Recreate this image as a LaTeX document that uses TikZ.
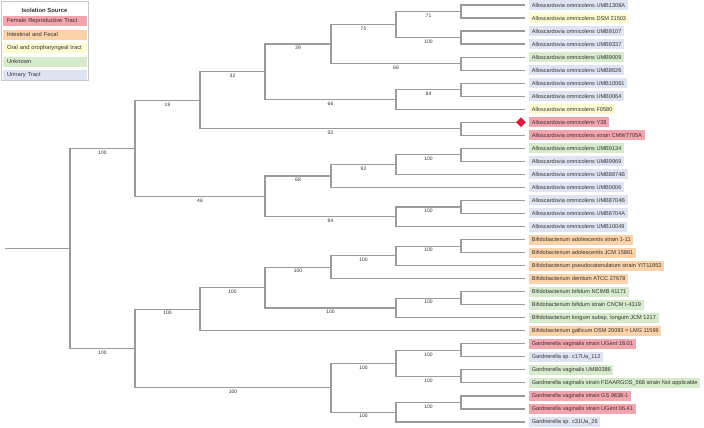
\documentclass[tikz,border=0pt]{standalone}
\usepackage{fontspec}
\setmainfont{Liberation Sans}
\usetikzlibrary{shapes.geometric,positioning}
\definecolor{branchgray}{HTML}{9B9B9B}
\definecolor{labelink}{HTML}{333333}
\definecolor{legendgray}{HTML}{C8C8C8}
\definecolor{srcfemale}{HTML}{F4A4AC}
\definecolor{srcgut}{HTML}{FCD2A8}
\definecolor{srcoral}{HTML}{FEFAD2}
\definecolor{srcunknown}{HTML}{D6EBCB}
\definecolor{srcurinary}{HTML}{DFE4F3}
\definecolor{markred}{HTML}{E2173E}

\begin{document}
\begin{tikzpicture}[x=1pt, y=-1pt,
  branch/.style={draw=branchgray, line width=1.2pt},
  boot/.style={font=\fontsize{5}{5}\selectfont, text=labelink, anchor=north,
               inner sep=0.6pt, yshift=-1.1pt},
  leaf/.style={anchor=west, inner xsep=2.6pt, inner ysep=0pt, minimum height=10pt,
               font=\fontsize{5.6}{6}\selectfont, text=labelink},
  legitem/.style={text width=76pt, inner xsep=4pt, inner ysep=0pt, minimum height=10pt,
                  align=left, font=\fontsize{5.8}{6}\selectfont, text=labelink}
]
  \useasboundingbox[fill=white] (0,0) rectangle (704,428);

  % isolation source key
  \node[draw=legendgray, fill=white, line width=0.6pt, anchor=north west, inner sep=0pt,
        minimum width=87pt, minimum height=79pt] (legend) at (1,1) {};
  \node[font=\fontsize{5.9}{6}\selectfont\bfseries, text=labelink] (legtitle) at (44.5,10) {Isolation Source};
  \node[legitem, fill=srcfemale] (legfemale) at (45,21) {Female Reproductive Tract};
  \node[legitem, fill=srcgut, below=3.2pt of legfemale] (leggut) {Intestinal and Fecal};
  \node[legitem, fill=srcoral, below=3.2pt of leggut] (legoral) {Oral and oropharyngeal tract};
  \node[legitem, fill=srcunknown, below=3.2pt of legoral] (legunknown) {Unknown};
  \node[legitem, fill=srcurinary, below=3.2pt of legunknown] (legurinary) {Urinary Tract};

  % tips
  \node[leaf, fill=srcurinary] (l1) at (529,5.00) {Alloscardovia omnicolens UMB1308A};
  \node[leaf, fill=srcoral] (l2) at (529,18.03) {Alloscardovia omnicolens DSM 21503};
  \node[leaf, fill=srcurinary] (l3) at (529,31.06) {Alloscardovia omnicolens UMB9107};
  \node[leaf, fill=srcurinary] (l4) at (529,44.09) {Alloscardovia omnicolens UMB9337};
  \node[leaf, fill=srcunknown] (l5) at (529,57.12) {Alloscardovia omnicolens UMB9009};
  \node[leaf, fill=srcurinary] (l6) at (529,70.15) {Alloscardovia omnicolens UMB8626};
  \node[leaf, fill=srcurinary] (l7) at (529,83.18) {Alloscardovia omnicolens UMB10061};
  \node[leaf, fill=srcurinary] (l8) at (529,96.21) {Alloscardovia omnicolens UMB0064};
  \node[leaf, fill=srcoral] (l9) at (529,109.24) {Alloscardovia omnicolens F0580};
  \node[leaf, fill=srcfemale] (l10) at (529,122.27) {Alloscardovia omnicolens Y28};
  \node[leaf, fill=srcfemale] (l11) at (529,135.30) {Alloscardovia omnicolens strain CMW7705A};
  \node[leaf, fill=srcunknown] (l12) at (529,148.33) {Alloscardovia omnicolens UMB9134};
  \node[leaf, fill=srcurinary] (l13) at (529,161.36) {Alloscardovia omnicolens UMB9969};
  \node[leaf, fill=srcurinary] (l14) at (529,174.39) {Alloscardovia omnicolens UMB8874B};
  \node[leaf, fill=srcurinary] (l15) at (529,187.42) {Alloscardovia omnicolens UMB0006};
  \node[leaf, fill=srcurinary] (l16) at (529,200.45) {Alloscardovia omnicolens UMB8704B};
  \node[leaf, fill=srcurinary] (l17) at (529,213.48) {Alloscardovia omnicolens UMB8704A};
  \node[leaf, fill=srcurinary] (l18) at (529,226.51) {Alloscardovia omnicolens UMB10049};
  \node[leaf, fill=srcgut] (l19) at (529,239.54) {Bifidobacterium adolescentis strain 1-11};
  \node[leaf, fill=srcgut] (l20) at (529,252.57) {Bifidobacterium adolescentis JCM 15861};
  \node[leaf, fill=srcgut] (l21) at (529,265.60) {Bifidobacterium pseudocatenulatum strain YIT11953};
  \node[leaf, fill=srcgut] (l22) at (529,278.63) {Bifidobacterium dentium ATCC 27678};
  \node[leaf, fill=srcunknown] (l23) at (529,291.66) {Bifidobacterium bifidum NCIMB 41171};
  \node[leaf, fill=srcunknown] (l24) at (529,304.69) {Bifidobacterium bifidum strain CNCM I-4319};
  \node[leaf, fill=srcunknown] (l25) at (529,317.72) {Bifidobacterium longum subsp. longum JCM 1217};
  \node[leaf, fill=srcgut] (l26) at (529,330.75) {Bifidobacterium gallicum DSM 20093 = LMG 11596};
  \node[leaf, fill=srcfemale] (l27) at (529,343.78) {Gardnerella vaginalis strain UGent 18.01};
  \node[leaf, fill=srcurinary] (l28) at (529,356.81) {Gardnerella sp. c17Ua\_112};
  \node[leaf, fill=srcunknown] (l29) at (529,369.84) {Gardnerella vaginalis UMB0386};
  \node[leaf, fill=srcunknown] (l30) at (529,382.87) {Gardnerella vaginalis strain FDAARGOS\_568 strain Not applicable};
  \node[leaf, fill=srcfemale] (l31) at (529,395.90) {Gardnerella vaginalis strain GS 9838-1};
  \node[leaf, fill=srcfemale] (l32) at (529,408.93) {Gardnerella vaginalis strain UGent 06.41};
  \node[leaf, fill=srcurinary] (l33) at (529,421.96) {Gardnerella sp. c31Ua\_26};

  % inner nodes
  \coordinate (root0) at (5,248.4);
  \coordinate (root) at (70,248.4);
  \coordinate (allo) at (135,148.4);
  \coordinate (a1t11) at (200,100.3);
  \coordinate (a1t9) at (265,71.8);
  \coordinate (a1t6) at (331,44.1);
  \coordinate (a1t4) at (396,24.5);
  \coordinate (a12) at (461,11.5);
  \coordinate (a34) at (461,37.6);
  \coordinate (a56) at (461,63.6);
  \coordinate (a7t9) at (396,99.5);
  \coordinate (a78) at (461,89.7);
  \coordinate (a1011) at (461,128.8);
  \coordinate (a12t18) at (265,196.4);
  \coordinate (a12t15) at (331,176.0);
  \coordinate (a12t14) at (396,164.6);
  \coordinate (a1213) at (461,154.8);
  \coordinate (a16t18) at (396,216.8);
  \coordinate (a1617) at (461,207.0);
  \coordinate (bg) at (135,348.5);
  \coordinate (bifido) at (200,309.2);
  \coordinate (b19t25) at (265,287.6);
  \coordinate (b19t22) at (331,267.2);
  \coordinate (b19t21) at (396,255.8);
  \coordinate (b1920) at (461,246.1);
  \coordinate (b23t25) at (396,308.0);
  \coordinate (b2324) at (461,298.2);
  \coordinate (gard) at (331,387.8);
  \coordinate (g27t30) at (396,363.3);
  \coordinate (g2728) at (461,350.3);
  \coordinate (g2930) at (461,376.4);
  \coordinate (g31t33) at (396,412.2);
  \coordinate (g3132) at (461,402.4);

  % branches with bootstrap support
  \draw[branch] (root0) -- (root);
  \draw[branch] (root) |- (allo) node[boot, pos=.75] {100};
  \draw[branch] (root) |- (bg) node[boot, pos=.75] {100};

  \draw[branch] (allo) |- (a1t11) node[boot, pos=.75] {19};
  \draw[branch] (allo) |- (a12t18) node[boot, pos=.75] {46};
  \draw[branch] (a1t11) |- (a1t9) node[boot, pos=.75] {32};
  \draw[branch] (a1t11) |- (a1011) node[boot, pos=.75] {50};
  \draw[branch] (a1t9) |- (a1t6) node[boot, pos=.75] {39};
  \draw[branch] (a1t9) |- (a7t9) node[boot, pos=.75] {66};
  \draw[branch] (a1t6) |- (a1t4) node[boot, pos=.75] {70};
  \draw[branch] (a1t6) |- (a56) node[boot, pos=.75] {68};
  \draw[branch] (a1t4) |- (a12) node[boot, pos=.75] {71};
  \draw[branch] (a1t4) |- (a34) node[boot, pos=.75] {100};
  \draw[branch] (a7t9) |- (a78) node[boot, pos=.75] {84};
  \draw[branch] (a7t9) |- ([xshift=-4pt]l9.west);
  \draw[branch] (a12t18) |- (a12t15) node[boot, pos=.75] {68};
  \draw[branch] (a12t18) |- (a16t18) node[boot, pos=.75] {84};
  \draw[branch] (a12t15) |- (a12t14) node[boot, pos=.75] {92};
  \draw[branch] (a12t15) |- ([xshift=-4pt]l15.west);
  \draw[branch] (a12t14) |- (a1213) node[boot, pos=.75] {100};
  \draw[branch] (a12t14) |- ([xshift=-4pt]l14.west);
  \draw[branch] (a16t18) |- (a1617) node[boot, pos=.75] {100};
  \draw[branch] (a16t18) |- ([xshift=-4pt]l18.west);

  \draw[branch] (bg) |- (bifido) node[boot, pos=.75] {100};
  \draw[branch] (bg) |- (gard) node[boot, pos=.75] {100};
  \draw[branch] (bifido) |- (b19t25) node[boot, pos=.75] {100};
  \draw[branch] (bifido) |- ([xshift=-4pt]l26.west);
  \draw[branch] (b19t25) |- (b19t22) node[boot, pos=.75] {100};
  \draw[branch] (b19t25) |- (b23t25) node[boot, pos=.75] {100};
  \draw[branch] (b19t22) |- (b19t21) node[boot, pos=.75] {100};
  \draw[branch] (b19t22) |- ([xshift=-4pt]l22.west);
  \draw[branch] (b19t21) |- (b1920) node[boot, pos=.75] {100};
  \draw[branch] (b19t21) |- ([xshift=-4pt]l21.west);
  \draw[branch] (b23t25) |- (b2324) node[boot, pos=.75] {100};
  \draw[branch] (b23t25) |- ([xshift=-4pt]l25.west);
  \draw[branch] (gard) |- (g27t30) node[boot, pos=.75] {100};
  \draw[branch] (gard) |- (g31t33) node[boot, pos=.75] {100};
  \draw[branch] (g27t30) |- (g2728) node[boot, pos=.75] {100};
  \draw[branch] (g27t30) |- (g2930) node[boot, pos=.75] {100};
  \draw[branch] (g31t33) |- (g3132) node[boot, pos=.75] {100};
  \draw[branch] (g31t33) |- ([xshift=-4pt]l33.west);

  % cherries out to the tips
  \draw[branch] (a12) |- ([xshift=-4pt]l1.west);
  \draw[branch] (a12) |- ([xshift=-4pt]l2.west);
  \draw[branch] (a34) |- ([xshift=-4pt]l3.west);
  \draw[branch] (a34) |- ([xshift=-4pt]l4.west);
  \draw[branch] (a56) |- ([xshift=-4pt]l5.west);
  \draw[branch] (a56) |- ([xshift=-4pt]l6.west);
  \draw[branch] (a78) |- ([xshift=-4pt]l7.west);
  \draw[branch] (a78) |- ([xshift=-4pt]l8.west);
  \draw[branch] (a1011) |- ([xshift=-4pt]l10.west);
  \draw[branch] (a1011) |- ([xshift=-4pt]l11.west);
  \draw[branch] (a1213) |- ([xshift=-4pt]l12.west);
  \draw[branch] (a1213) |- ([xshift=-4pt]l13.west);
  \draw[branch] (a1617) |- ([xshift=-4pt]l16.west);
  \draw[branch] (a1617) |- ([xshift=-4pt]l17.west);
  \draw[branch] (b1920) |- ([xshift=-4pt]l19.west);
  \draw[branch] (b1920) |- ([xshift=-4pt]l20.west);
  \draw[branch] (b2324) |- ([xshift=-4pt]l23.west);
  \draw[branch] (b2324) |- ([xshift=-4pt]l24.west);
  \draw[branch] (g2728) |- ([xshift=-4pt]l27.west);
  \draw[branch] (g2728) |- ([xshift=-4pt]l28.west);
  \draw[branch] (g2930) |- ([xshift=-4pt]l29.west);
  \draw[branch] (g2930) |- ([xshift=-4pt]l30.west);
  \draw[branch] (g3132) |- ([xshift=-4pt]l31.west);
  \draw[branch] (g3132) |- ([xshift=-4pt]l32.west);

  % highlighted tip
  \node[diamond, fill=markred, inner sep=0pt, minimum size=10pt] (tipmark) at (521,122.27) {};
\end{tikzpicture}
\end{document}
